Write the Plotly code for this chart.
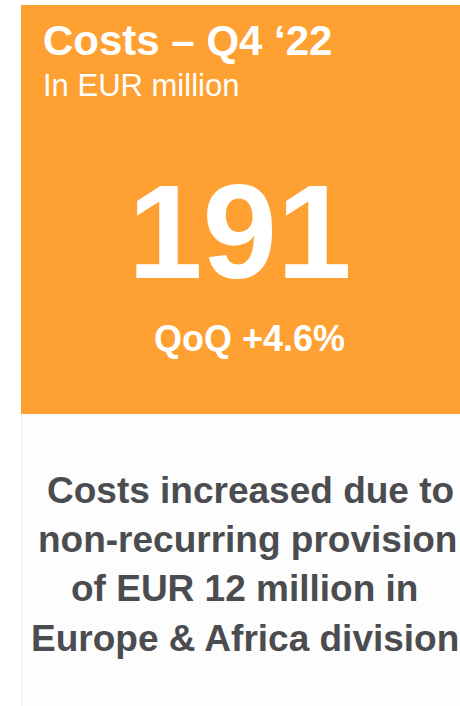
import plotly.graph_objects as go

# ---- data ----
title_text = "Costs – Q4 ‘22"
unit_text = "In EUR million"
kpi_value = 191
qoq_change = 4.6
comment_lines = [
    "Costs increased due to",
    "non-recurring provision",
    "of EUR 12 million in",
    "Europe & Africa division",
]

W, H = 460, 706
ORANGE = "#FEA032"
GREY = "#4B4C50"
FONT = "Liberation Sans"

fig = go.Figure()
fig.update_layout(
    width=W, height=H, autosize=False,
    margin=dict(l=0, r=0, t=0, b=0),
    paper_bgcolor="white", plot_bgcolor="white",
    xaxis=dict(range=[0, W], visible=False, fixedrange=True),
    yaxis=dict(range=[H, 0], visible=False, fixedrange=True),
    showlegend=False,
)

shapes = [
    dict(type="rect", x0=22, x1=W, y0=414, y1=H, fillcolor="#FDFDFD",
         line=dict(width=0), layer="below"),
    dict(type="line", x0=22, x1=22, y0=414, y1=H,
         line=dict(color="#EFEFEF", width=1), layer="below"),
    dict(type="rect", x0=21, x1=W, y0=5, y1=414, fillcolor=ORANGE,
         line=dict(width=0), layer="below"),
]
fig.update_layout(shapes=shapes)

ann = []
ann.append(dict(x=41, y=40, text=f"<b>{title_text}</b>", xanchor="left", yanchor="middle",
                showarrow=False, font=dict(family=FONT, size=42, color="white")))
ann.append(dict(x=41, y=85, text=unit_text, xanchor="left", yanchor="middle",
                showarrow=False, font=dict(family=FONT, size=31, color="white")))
ann.append(dict(x=240, y=231, text=f"<b>{kpi_value}</b>", xanchor="center", yanchor="middle",
                showarrow=False, font=dict(family=FONT, size=134, color="white")))
ann.append(dict(x=249, y=338, text=f"<b>QoQ +{qoq_change}%</b>", xanchor="center", yanchor="middle",
                showarrow=False, font=dict(family=FONT, size=36, color="white")))

line_y = [490, 539, 588, 638]
line_x = [250, 247, 244, 245]
for txt, xx, yy in zip(comment_lines, line_x, line_y):
    ann.append(dict(x=xx, y=yy, text=f"<b>{txt}</b>", xanchor="center", yanchor="middle",
                    showarrow=False, font=dict(family=FONT, size=37, color=GREY)))

fig.update_layout(annotations=ann)
fig.write_html(
    "out.html",
    config={"displayModeBar": False},
    post_script="document.body.style.margin='0';document.body.style.overflow='hidden';",
)
